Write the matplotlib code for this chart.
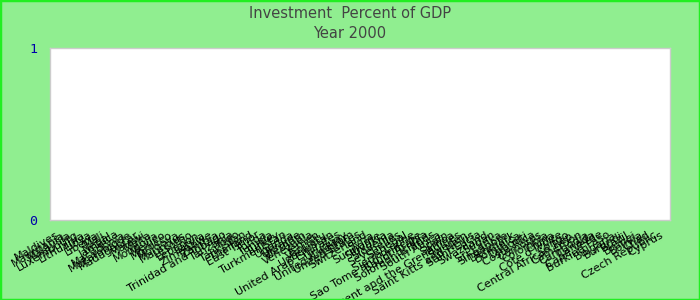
import numpy as np
import matplotlib
matplotlib.use("Agg")
import matplotlib.pyplot as plt
from matplotlib.patches import Rectangle

# countries in chart order (labels are heavily overlapped in the source)
countries = [
    "Maldives", "Mauritania", "Malaysia", "Luxembourg", "Lithuania", "Libya",
    "Liberia", "Mali", "Nepal", "Jamaica", "Macedonia", "Mozambique",
    "Madagascar", "Malawi", "Malta", "Mongolia", "Mexico", "Morocco",
    "Moldova", "Mauritius", "Lesotho", "Lebanon", "Latvia", "Zimbabwe",
    "Zambia", "Trinidad and Tobago", "Tanzania", "Togo", "Tajikistan",
    "Thailand", "East Timor", "Tonga", "Tunisia", "Turkey", "Turkmenistan",
    "Uganda", "Ukraine", "Vietnam", "Venezuela", "Yemen", "Vanuatu",
    "Uzbekistan", "United Arab Emirates", "Uruguay", "United Kingdom",
    "United States", "Switzerland", "Syria", "Suriname", "Slovakia",
    "Slovenia", "Seychelles", "Senegal", "Sierra Leone",
    "Sao Tome and Principe", "Saudi Arabia", "Solomon Islands",
    "South Africa", "Spain", "Samoa", "Saint Vincent and the Grenadines",
    "Sweden", "Saint Kitts and Nevis", "Saint Lucia", "Swaziland", "Sudan",
    "Sri Lanka", "Singapore", "Denmark", "Dominica", "Djibouti",
    "Costa Rica", "Comoros", "Colombia", "China", "Cote d'Ivoire", "Congo",
    "Central African Rep.", "Cameroon", "Cambodia", "Canada",
    "Cape Verde", "Burkina Faso", "Bulgaria", "Burundi", "Brazil", "Brunei",
    "Bolivia", "Chad", "Czech Republic", "Cyprus",
]
# no bars are visible in the chart for 2000
investment = [0.0] * len(countries)
yticks = [0, 1]

bg = "#90ee90"
fig = plt.figure(figsize=(7, 3), dpi=100, facecolor=bg)
ax = fig.add_axes([50 / 700, 80 / 300, 620 / 700, 172 / 300])
ax.set_facecolor("white")

x = np.arange(len(countries))
ax.bar(x, investment, width=0.7, color="#3366cc")

step = 605 / (len(countries) - 1)
ax.set_xlim(-5 / step, len(countries) - 1 + 10 / step)
ax.set_ylim(0, 1)
ax.set_yticks(yticks)
ax.set_yticklabels([str(v) for v in yticks], family="DejaVu Sans Mono",
                   fontsize=9.5, color="#0000aa")
ax.set_xticks(x)
ax.set_xticklabels(countries, rotation=30, ha="right", rotation_mode="anchor",
                   fontsize=8, color="black")
ax.tick_params(axis="both", length=0)
ax.tick_params(axis="y", pad=9)
ax.tick_params(axis="x", pad=7)
for s in ax.spines.values():
    s.set_color("#cccccc")
    s.set_linewidth(1)

fig.text(0.5, 1 - 13 / 300, "Investment  Percent of GDP", ha="center",
         va="center", fontsize=10.5, color="#444444")
fig.text(0.5, 1 - 33 / 300, "Year 2000", ha="center", va="center",
         fontsize=10.5, color="#444444")

fig.patches.append(Rectangle((0, 0), 1, 1, transform=fig.transFigure,
                             fill=False, edgecolor="#22ee22", linewidth=2.5))

fig.savefig("out.png", dpi=100, facecolor=bg)
